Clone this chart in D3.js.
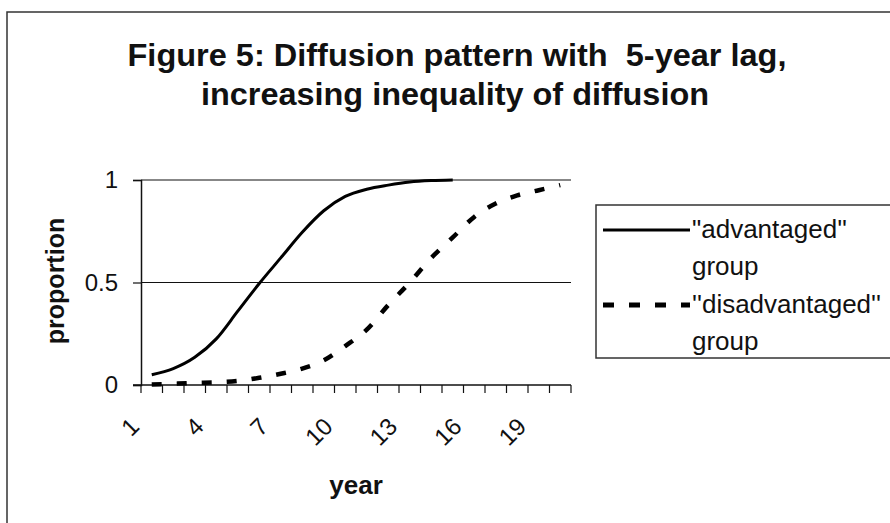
<!DOCTYPE html>
<html>
<head>
<meta charset="utf-8">
<script src="https://cdn.jsdelivr.net/npm/d3@7"></script>
<style>
  body { margin: 0; background: #fff; }
  text { font-family: "Liberation Sans", Arial, sans-serif; fill: #111; }
</style>
</head>
<body>
<div class="canva"></div>
<script>
// values
const years = [1, 2, 3, 4, 5, 6, 7, 8, 9, 10, 11, 12, 13, 14, 15, 16, 17, 18, 19, 20];
const advantaged = [0.05, 0.08, 0.135, 0.225, 0.36, 0.495, 0.62, 0.745, 0.85, 0.92, 0.955, 0.975, 0.99, 0.997, 1.0];
const disadvantaged = [0.002, 0.006, 0.01, 0.013, 0.02, 0.035, 0.055, 0.08, 0.12, 0.19, 0.27, 0.39, 0.5, 0.62, 0.72, 0.82, 0.885, 0.925, 0.95, 0.975];
const yearLabels = [1, 4, 7, 10, 13, 16, 19];
const yTicks = [0, 0.5, 1];
const titleLines = ["Figure 5: Diffusion pattern with  5-year lag,", "increasing inequality of diffusion"];
const legendLabels = [["\"advantaged''", "group"], ["''disadvantaged''", "group"]];

const svg = d3.select(".canva").append("svg")
    .attr("width", 890)
    .attr("height", 523);

// outer frame (only left and top edges are visible)
svg.append("rect")
    .attr("x", 7).attr("y", 12)
    .attr("width", 1000).attr("height", 600)
    .attr("fill", "none")
    .attr("stroke", "#333")
    .attr("stroke-width", 1.5);

// title
svg.append("text")
    .attr("x", 457).attr("y", 66)
    .attr("text-anchor", "middle")
    .attr("font-size", 32).attr("font-weight", "bold")
    .attr("textLength", 659).attr("lengthAdjust", "spacingAndGlyphs")
    .style("white-space", "pre")
    .text(titleLines[0]);
svg.append("text")
    .attr("x", 455).attr("y", 105)
    .attr("text-anchor", "middle")
    .attr("font-size", 32).attr("font-weight", "bold")
    .attr("textLength", 508).attr("lengthAdjust", "spacingAndGlyphs")
    .text(titleLines[1]);

const x = d3.scaleBand().domain(years).range([141, 571]);
const y = d3.scaleLinear().domain([0, 1]).range([385, 180]);
const cx = d => x(d) + x.bandwidth() / 2;

// gridlines
svg.append("g").selectAll("line")
    .data(yTicks.filter(d => d > 0))
    .join("line")
    .attr("x1", x.range()[0]).attr("x2", x.range()[1])
    .attr("y1", d => y(d)).attr("y2", d => y(d))
    .attr("stroke", "#111").attr("stroke-width", 1.2);

// y axis
const yAxis = svg.append("g")
    .attr("transform", `translate(${x.range()[0]},0)`)
    .call(d3.axisLeft(y).tickValues(yTicks).tickSize(8).tickPadding(15).tickFormat(d3.format("")));
yAxis.select(".domain").attr("stroke", "#111").attr("stroke-width", 1.5);
yAxis.selectAll(".tick line").attr("stroke", "#111").attr("stroke-width", 1.2);
yAxis.selectAll("text")
    .attr("font-size", 24)
    .attr("font-family", "Liberation Sans, Arial, sans-serif")
    .attr("fill", "#222");

// x axis: ticks between categories
const xAxis = svg.append("g").attr("transform", `translate(0,${y(0)})`);
xAxis.append("line")
    .attr("x1", x.range()[0] - 8).attr("x2", x.range()[1])
    .attr("stroke", "#111").attr("stroke-width", 1.5);
xAxis.selectAll(".bnd")
    .data(years.map(d => x(d)).concat([x.range()[1]]))
    .join("line")
    .attr("class", "bnd")
    .attr("x1", d => d).attr("x2", d => d)
    .attr("y1", 0).attr("y2", 8)
    .attr("stroke", "#111").attr("stroke-width", 1.2);

const xLab = svg.append("g")
    .attr("transform", `translate(0,${y(0)})`)
    .call(d3.axisBottom(x).tickValues(yearLabels).tickSize(0));
xLab.select(".domain").remove();
xLab.selectAll("text")
    .attr("y", 0).attr("dy", 0)
    .attr("text-anchor", "end")
    .attr("transform", "translate(-11,43) rotate(-45)")
    .attr("font-size", 24)
    .attr("font-family", "Liberation Sans, Arial, sans-serif")
    .attr("fill", "#222");

// axis titles
svg.append("text")
    .attr("transform", "translate(64,281) rotate(-90)")
    .attr("text-anchor", "middle")
    .attr("font-size", 25).attr("font-weight", "bold")
    .text("proportion");
svg.append("text")
    .attr("x", 356).attr("y", 494)
    .attr("text-anchor", "middle")
    .attr("font-size", 26).attr("font-weight", "bold")
    .text("year");

// series
const line = d3.line()
    .x((d, i) => cx(years[i]))
    .y(d => y(d))
    .curve(d3.curveCatmullRom.alpha(0));

svg.append("path")
    .attr("d", line(advantaged))
    .attr("fill", "none")
    .attr("stroke", "#000")
    .attr("stroke-width", 3);

svg.append("path")
    .attr("d", line(disadvantaged))
    .attr("fill", "none")
    .attr("stroke", "#000")
    .attr("stroke-width", 4.5)
    .attr("stroke-dasharray", "10,15");

// legend
const legend = svg.append("g");
legend.append("rect")
    .attr("x", 596).attr("y", 205)
    .attr("width", 400).attr("height", 153)
    .attr("fill", "#fff")
    .attr("stroke", "#333").attr("stroke-width", 1.5);

const dashes = [null, "11,15"];
const widths = [3, 5];
legendLabels.forEach((lab, i) => {
    const base = 238 + i * 75;
    legend.append("line")
        .attr("x1", 603).attr("x2", 690)
        .attr("y1", base - 8).attr("y2", base - 8)
        .attr("stroke", "#000")
        .attr("stroke-width", widths[i])
        .attr("stroke-dasharray", dashes[i]);
    lab.forEach((t, j) => {
        legend.append("text")
            .attr("x", 692).attr("y", base + j * 37)
            .attr("font-size", 26)
            .text(t);
    });
});
</script>
</body>
</html>
